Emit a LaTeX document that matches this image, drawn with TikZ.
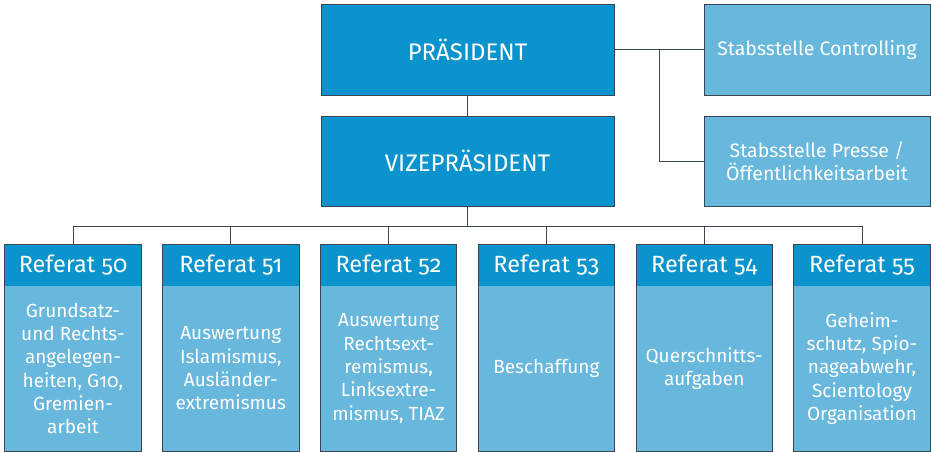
\documentclass[tikz,border=0pt]{standalone}
\usepackage{fontspec}
\setmainfont{Fira Sans}[Numbers=OldStyle]

\definecolor{headblue}{HTML}{0A93CC}
\definecolor{bodyblue}{HTML}{68B7DC}
\definecolor{framegray}{HTML}{3C4650}

\tikzset{
  leadbox/.style={draw=framegray, line width=1pt, fill=headblue, text=white, minimum width=293pt, minimum height=90pt, inner sep=0pt, font=\fontsize{24}{28}\selectfont},
  staffbox/.style={draw=framegray, line width=1pt, fill=bodyblue, text=white, minimum width=226pt, minimum height=90pt, inner sep=0pt, align=center, font=\fontsize{19.5}{23.3}\selectfont},
  refhead/.style={fill=headblue, text=white, minimum width=136pt, minimum height=41pt, inner sep=0pt, font=\fontsize{23.5}{28}\selectfont},
  refbody/.style={fill=bodyblue, text=white, minimum width=136pt, minimum height=165pt, inner sep=0pt, align=center, font=\fontsize{19}{23.3}\selectfont},
  link/.style={draw=framegray, line width=1pt}
}

\begin{document}
\begin{tikzpicture}[x=1pt, y=-1pt]

  \useasboundingbox[fill=white] (0,0) rectangle (931,452);

  \node[leadbox] (pres) at (467.5,50) {PRÄSIDENT};
  \node[leadbox] (vize) at (467.5,161) {VIZEPRÄSIDENT};

  \node[staffbox] (ctrl) at (817,50) {Stabsstelle Controlling};
  \node[staffbox] (presse) at (817,161) {Stabsstelle Presse /\\Öffentlichkeitsarbeit};

  \coordinate (staffjoint) at (659,50);
  \coordinate (bus) at (467.5,226);

  \foreach \n/\txt [count=\i from 0] in {
      50/{Grundsatz-\\und Rechts-\\angelegen-\\heiten, G10,\\Gremien-\\arbeit},
      51/{Auswertung\\Islamismus,\\Ausländer-\\extremismus},
      52/{Auswertung\\Rechtsext-\\remismus,\\Linksextre-\\mismus, TIAZ},
      53/{Beschaffung},
      54/{Querschnitts-\\aufgaben},
      55/{Geheim-\\schutz, Spio-\\nageabwehr,\\Scientology\\Organisation}} {
    \node[refhead] (head\n) at (73+157.8*\i,265.5) {Referat \n};
    \node[refbody] (body\n) at (73+157.8*\i,368.5) {\txt};
    \draw[link] (head\n.north west) rectangle (body\n.south east);
    \draw[link] (bus) -| (head\n.north);
  }

  \draw[link] (pres) -- (vize);
  \draw[link] (vize) -- (bus);
  \draw[link] (pres) -- (ctrl);
  \draw[link] (staffjoint) |- (presse.west);

\end{tikzpicture}
\end{document}
